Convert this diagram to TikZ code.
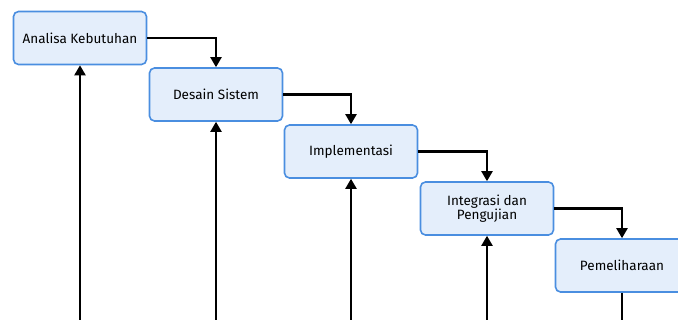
\documentclass[tikz,border=0pt]{standalone}
\usepackage{fontspec}
\setmainfont{Fira Sans}
\usetikzlibrary{arrows.meta}
\definecolor{boxfill}{HTML}{E4EEFB}
\definecolor{boxline}{HTML}{4A8EE0}
\tikzset{
  phase/.style={draw=boxline, fill=boxfill, line width=1.6pt, rounded corners=5pt,
    minimum width=133pt, minimum height=53pt, inner sep=2pt, align=center,
    font=\fontsize{13.5}{14}\selectfont},
  flow/.style={draw=black, line width=2.1pt, -{Triangle[length=10pt,width=11pt]}},
  plain/.style={draw=black, line width=2.1pt}
}
\begin{document}
\begin{tikzpicture}[x=1pt, y=-1pt]
  \useasboundingbox (0,0) rectangle (678,320);
  \clip (0,0) rectangle (678,320);
  % waterfall phases
  \node[phase] (ana) at (80,38) {Analisa Kebutuhan};
  \node[phase] (des) at (216,94.5) {Desain Sistem};
  \node[phase] (imp) at (351,151.5) {Implementasi};
  \node[phase] (int) at (487,208.5) {Integrasi dan\\Pengujian};
  \node[phase] (pem) at (622,265.5) {Pemeliharaan};
  % lower ends of the return lines
  \coordinate (r1) at (80,330);
  \coordinate (r2) at (216,330);
  \coordinate (r3) at (351,330);
  \coordinate (r4) at (487,330);
  \coordinate (r5) at (622,330);
  % forward flow
  \draw[flow] (ana.east) -| (des.north);
  \draw[flow] (des.east) -| (imp.north);
  \draw[flow] (imp.east) -| (int.north);
  \draw[flow] (int.east) -| (pem.north);
  % feedback lines
  \draw[flow] (r1) -- (ana.south);
  \draw[flow] (r2) -- (des.south);
  \draw[flow] (r3) -- (imp.south);
  \draw[flow] (r4) -- (int.south);
  \draw[plain] (pem.south) -- (r5);
\end{tikzpicture}
\end{document}
